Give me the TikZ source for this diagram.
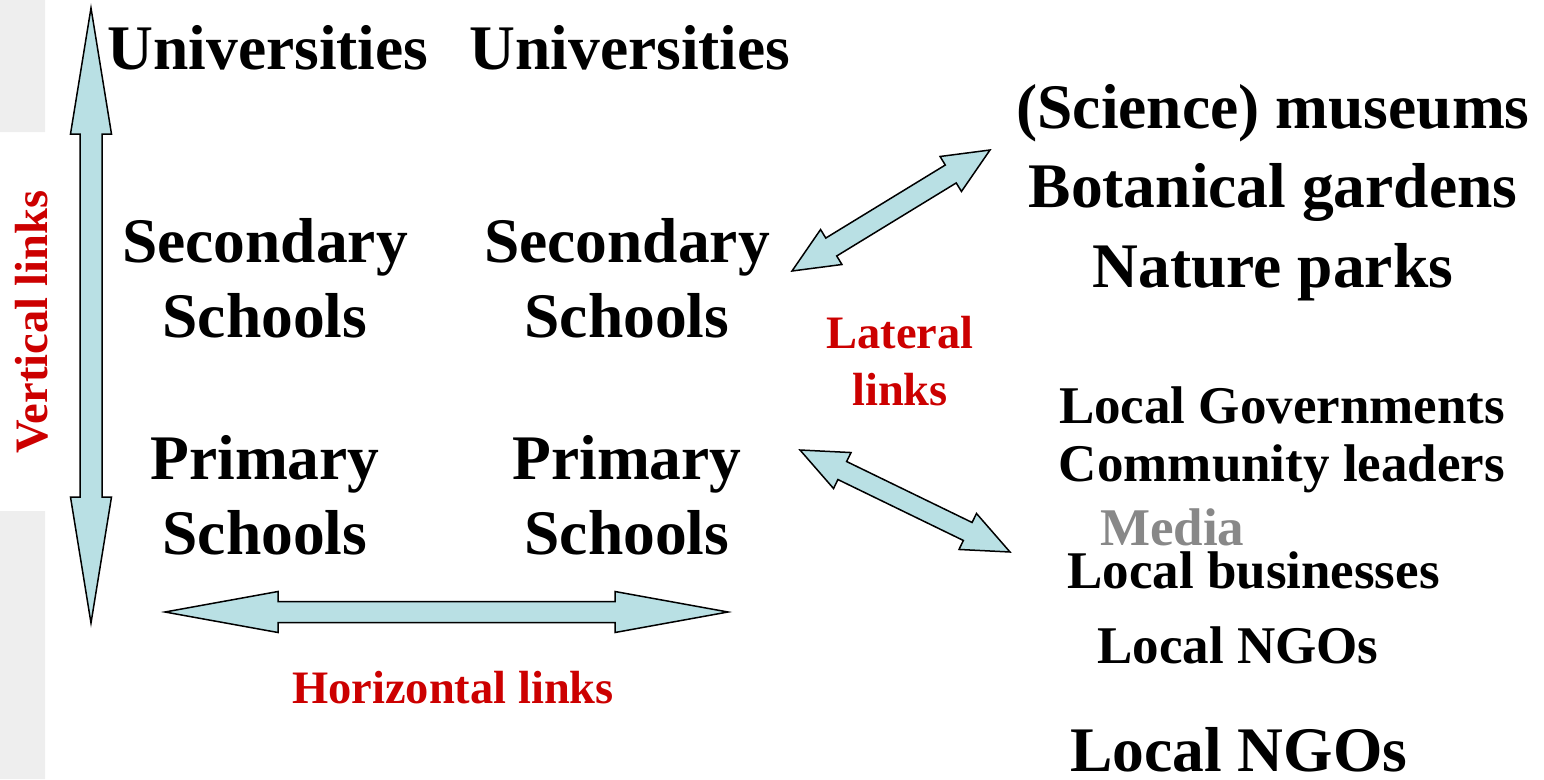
\documentclass[tikz,border=0pt]{standalone}
\usepackage{fontspec}
\setmainfont{Liberation Serif}
\usetikzlibrary{calc}
\definecolor{linkblue}{RGB}{185,224,228}
\definecolor{linkred}{RGB}{204,0,0}
\definecolor{mediagray}{RGB}{136,136,136}
\definecolor{stripgray}{RGB}{238,238,238}

% block arrow: tail, tip, shaft half width, head half width, head length
\newcommand{\linkarrow}[5]{%
  \coordinate (hs) at ($(#1)!#5!(#2)$);
  \coordinate (he) at ($(#2)!#5!(#1)$);
  \draw[linkshape] (#1) -- ($(hs)!#4!90:(#2)$) -- ($(hs)!#3!90:(#2)$)
    -- ($(he)!#3!-90:(#1)$) -- ($(he)!#4!-90:(#1)$) -- (#2)
    -- ($(he)!#4!90:(#1)$) -- ($(he)!#3!90:(#1)$)
    -- ($(hs)!#3!-90:(#2)$) -- ($(hs)!#4!-90:(#2)$) -- cycle;}

\begin{document}
\begin{tikzpicture}[x=1pt, y=-1pt,
    every node/.style={inner sep=0pt},
    big/.style={font=\fontsize{63.5}{75}\selectfont\bfseries, align=center},
    mid/.style={font=\fontsize{53}{58}\selectfont\bfseries, align=center},
    linktext/.style={text=linkred, font=\fontsize{46.5}{57}\selectfont\bfseries, align=center},
    linkshape/.style={fill=linkblue, draw=black, line width=1.5pt, line join=miter}]
    \useasboundingbox (0,0) rectangle (1544,779);
    \fill[stripgray] (0,0) rectangle (45,132) (0,511) rectangle (45,779);

    % schools and universities (base = last line)
    \node[big, anchor=base] (uniL) at (268,69) {Universities};
    \node[big, anchor=base] (uniR) at (630,69) {Universities};
    \node[big, anchor=base] (secL) at (265,337) {Secondary\\Schools};
    \node[big, anchor=base] (secR) at (627,337) {Secondary\\Schools};
    \node[big, anchor=base] (priL) at (265,554) {Primary\\Schools};
    \node[big, anchor=base] (priR) at (627,554) {Primary\\Schools};

    % partners
    \node[big, font=\fontsize{63.5}{79.5}\selectfont\bfseries, anchor=base] (sites) at (1273,287)
        {(Science) museums\\Botanical gardens\\Nature parks};
    \node[mid, anchor=base] (gov) at (1282,481) {Local Governments\\Community leaders};
    \node[mid, anchor=base west, text=mediagray] (media) at (1100,545) {Media};
    \node[mid, anchor=base west] (biz) at (1067,588) {Local businesses};
    \node[mid, anchor=base west] (ngo) at (1097,663) {Local NGOs};
    \node[big, anchor=base west] (ngoB) at (1070,771) {Local NGOs};

    % link labels
    \node[linktext, rotate=90, anchor=base] (vlab) at (47,322) {Vertical links};
    \node[linktext, anchor=base] (llab) at (900,405) {Lateral\\links};
    \node[linktext, anchor=base] (hlab) at (453,703) {Horizontal links};

    % arrows
    \coordinate (vtop) at (91,8);
    \coordinate (vbot) at (91,623);
    \coordinate (hleft) at (165,612);
    \coordinate (hright) at (728,612);
    \coordinate (up1) at (792,271);
    \coordinate (up2) at (990,150);
    \coordinate (lo1) at (800,450);
    \coordinate (lo2) at (1010,552);
    \linkarrow{vtop}{vbot}{11pt}{20.5pt}{126pt}
    \linkarrow{hleft}{hright}{10.5pt}{20.5pt}{113pt}
    \linkarrow{up1}{up2}{10.5pt}{20.5pt}{46pt}
    \linkarrow{lo1}{lo2}{10pt}{20pt}{47pt}
\end{tikzpicture}
\end{document}
